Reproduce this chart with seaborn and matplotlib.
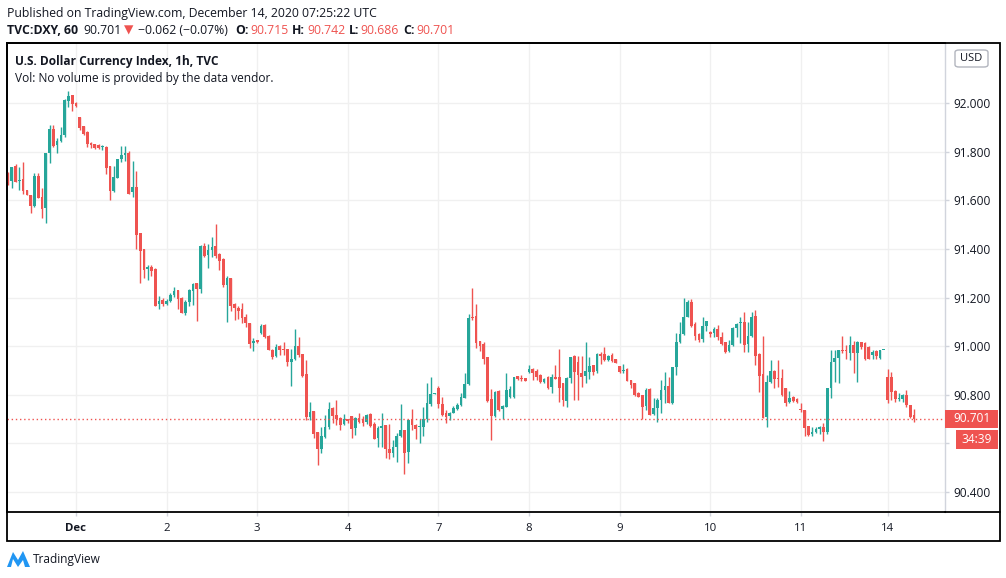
import matplotlib
matplotlib.use("Agg")
import matplotlib.pyplot as plt
import seaborn as sns
import numpy as np
from matplotlib.patches import FancyBboxPatch, Rectangle, Polygon
from matplotlib.lines import Line2D

# ---------------- data (hourly candles, TVC:DXY) ----------------
opens = [91.711, 91.679, 91.742, 91.681, 91.686, 91.641, 91.622, 91.578, 91.701, 91.613,
         91.569, 91.793, 91.893, 91.827, 91.844, 91.868, 92.010, 92.033, 91.999, 91.942,
         91.904, 91.882, 91.835, 91.830, 91.827, 91.820, 91.819, 91.739, 91.638, 91.693,
         91.770, 91.786, 91.796, 91.635, 91.653, 91.464, 91.400, 91.317, 91.326, 91.317,
         91.175, 91.189, 91.173, 91.187, 91.210, 91.231, 91.197, 91.138, 91.182, 91.228,
         91.258, 91.236, 91.412, 91.375, 91.396, 91.412, 91.378, 91.359, 91.252, 91.282,
         91.173, 91.158, 91.153, 91.121, 91.097, 91.012, 91.025, 91.053, 91.087, 91.042,
         90.984, 90.960, 91.001, 90.987, 90.987, 90.936, 90.946, 91.001, 90.968, 90.886,
         90.710, 90.733, 90.646, 90.576, 90.628, 90.669, 90.747, 90.717, 90.706, 90.680,
         90.701, 90.713, 90.665, 90.703, 90.699, 90.689, 90.721, 90.678, 90.624, 90.665,
         90.676, 90.576, 90.559, 90.584, 90.632, 90.655, 90.566, 90.699, 90.676, 90.668,
         90.669, 90.699, 90.762, 90.805, 90.826, 90.762, 90.724, 90.713, 90.726, 90.741,
         90.758, 90.787, 90.843, 91.121, 91.124, 91.021, 91.009, 90.957, 90.783, 90.713,
         90.815, 90.740, 90.751, 90.789, 90.789, 90.877, 90.866, 90.870, 90.895, 90.906,
         90.898, 90.881, 90.854, 90.874, 90.833, 90.874, 90.872, 90.850, 90.776, 90.870,
         90.959, 90.936, 90.888, 90.877, 90.895, 90.922, 90.899, 90.968, 90.968, 90.943,
         90.964, 90.946, 90.918, 90.898, 90.906, 90.861, 90.847, 90.806, 90.798, 90.754,
         90.822, 90.721, 90.744, 90.778, 90.820, 90.836, 90.765, 90.913, 91.018, 91.050,
         91.121, 91.183, 91.091, 91.050, 91.029, 91.083, 91.060, 91.053, 91.071, 91.039,
         91.016, 90.981, 91.005, 91.073, 91.094, 91.098, 91.009, 91.042, 91.124, 90.968,
         90.886, 90.710, 90.854, 90.899, 90.869, 90.870, 90.827, 90.772, 90.792, 90.781,
         90.738, 90.737, 90.671, 90.638, 90.648, 90.661, 90.668, 90.648, 90.826, 90.936,
         90.953, 90.986, 90.984, 90.973, 91.004, 90.973, 91.015, 91.011, 90.995, 90.963,
         90.981, 90.953, 90.984, 90.871, 90.871, 90.816, 90.783, 90.781, 90.799, 90.757,
         90.715]
highs = [91.715, 91.738, 91.748, 91.738, 91.756, 91.644, 91.622, 91.712, 91.712, 91.649,
         91.793, 91.909, 91.909, 91.857, 91.901, 92.016, 92.049, 92.033, 92.005, 91.942,
         91.907, 91.885, 91.838, 91.833, 91.830, 91.827, 91.822, 91.739, 91.739, 91.770,
         91.823, 91.823, 91.803, 91.762, 91.720, 91.464, 91.400, 91.333, 91.333, 91.323,
         91.206, 91.197, 91.193, 91.217, 91.245, 91.231, 91.204, 91.190, 91.234, 91.261,
         91.258, 91.415, 91.423, 91.420, 91.448, 91.503, 91.382, 91.361, 91.289, 91.282,
         91.179, 91.167, 91.179, 91.132, 91.097, 91.032, 91.025, 91.091, 91.091, 91.046,
         90.987, 91.009, 91.005, 91.019, 90.987, 90.987, 91.071, 91.036, 90.968, 90.943,
         90.772, 90.733, 90.646, 90.669, 90.717, 90.769, 90.751, 90.779, 90.710, 90.721,
         90.701, 90.713, 90.710, 90.726, 90.713, 90.721, 90.726, 90.689, 90.672, 90.724,
         90.676, 90.680, 90.614, 90.644, 90.762, 90.655, 90.699, 90.740, 90.680, 90.699,
         90.751, 90.850, 90.872, 90.808, 90.836, 90.789, 90.737, 90.730, 90.754, 90.767,
         90.806, 90.891, 91.131, 91.238, 91.173, 91.021, 91.018, 90.957, 90.824, 90.815,
         90.820, 90.758, 90.888, 90.836, 90.874, 90.877, 90.881, 90.870, 90.922, 90.909,
         90.904, 90.884, 90.870, 90.878, 90.884, 90.922, 90.987, 90.850, 90.874, 90.954,
         90.964, 90.960, 90.960, 91.018, 90.957, 90.922, 90.973, 90.977, 90.995, 90.964,
         90.973, 90.948, 90.918, 90.927, 90.909, 90.861, 90.847, 90.813, 90.798, 90.827,
         90.827, 90.785, 90.785, 90.861, 90.895, 90.875, 90.916, 91.053, 91.101, 91.197,
         91.190, 91.193, 91.101, 91.053, 91.119, 91.103, 91.064, 91.080, 91.087, 91.060,
         91.016, 91.025, 91.077, 91.097, 91.119, 91.139, 91.098, 91.139, 91.149, 90.971,
         91.042, 90.881, 90.943, 90.902, 90.943, 90.906, 90.829, 90.816, 90.795, 90.785,
         90.765, 90.737, 90.672, 90.666, 90.666, 90.671, 90.685, 90.829, 90.986, 90.984,
         90.986, 91.041, 91.004, 91.041, 91.022, 91.022, 91.018, 91.018, 91.000, 90.986,
         90.986, 90.986, 90.986, 90.904, 90.894, 90.819, 90.808, 90.805, 90.819, 90.757,
         90.742]
lows = [91.663, 91.652, 91.674, 91.642, 91.624, 91.622, 91.549, 91.572, 91.608, 91.528,
        91.505, 91.755, 91.820, 91.796, 91.838, 91.861, 91.985, 91.968, 91.984, 91.889,
        91.868, 91.819, 91.816, 91.809, 91.809, 91.807, 91.707, 91.601, 91.633, 91.690,
        91.756, 91.763, 91.626, 91.615, 91.398, 91.261, 91.282, 91.272, 91.289, 91.167,
        91.154, 91.165, 91.169, 91.183, 91.204, 91.154, 91.135, 91.130, 91.165, 91.169,
        91.104, 91.220, 91.368, 91.323, 91.368, 91.363, 91.313, 91.245, 91.101, 91.146,
        91.108, 91.110, 91.094, 91.078, 90.991, 90.981, 91.014, 91.049, 91.035, 90.982,
        90.949, 90.954, 90.964, 90.964, 90.919, 90.834, 90.943, 90.957, 90.875, 90.696,
        90.696, 90.621, 90.509, 90.562, 90.621, 90.658, 90.683, 90.676, 90.655, 90.676,
        90.685, 90.624, 90.634, 90.685, 90.672, 90.680, 90.669, 90.617, 90.587, 90.587,
        90.539, 90.534, 90.545, 90.525, 90.628, 90.473, 90.518, 90.655, 90.617, 90.600,
        90.630, 90.689, 90.754, 90.804, 90.747, 90.713, 90.685, 90.696, 90.724, 90.737,
        90.754, 90.785, 90.839, 91.107, 90.991, 90.980, 90.927, 90.772, 90.614, 90.710,
        90.735, 90.699, 90.748, 90.785, 90.785, 90.861, 90.858, 90.858, 90.891, 90.861,
        90.861, 90.847, 90.847, 90.824, 90.806, 90.865, 90.772, 90.754, 90.751, 90.847,
        90.779, 90.780, 90.833, 90.850, 90.864, 90.881, 90.891, 90.927, 90.940, 90.940,
        90.936, 90.930, 90.888, 90.891, 90.858, 90.827, 90.795, 90.790, 90.699, 90.737,
        90.717, 90.717, 90.689, 90.726, 90.765, 90.765, 90.762, 90.881, 91.014, 91.046,
        91.118, 91.077, 91.025, 91.018, 91.018, 91.064, 91.039, 91.039, 91.025, 91.005,
        90.973, 90.977, 91.001, 91.039, 91.012, 90.977, 90.977, 91.039, 90.923, 90.813,
        90.703, 90.666, 90.850, 90.827, 90.833, 90.795, 90.754, 90.768, 90.772, 90.765,
        90.731, 90.630, 90.630, 90.630, 90.641, 90.638, 90.611, 90.638, 90.785, 90.853,
        90.849, 90.970, 90.945, 90.943, 90.890, 90.853, 90.990, 90.942, 90.945, 90.949,
        90.949, 90.949, 90.983, 90.767, 90.778, 90.771, 90.775, 90.771, 90.751, 90.703,
        90.686]
closes = [91.676, 91.738, 91.676, 91.684, 91.638, 91.622, 91.578, 91.701, 91.611, 91.564,
          91.793, 91.892, 91.824, 91.844, 91.868, 92.012, 92.029, 91.994, 91.989, 91.899,
          91.872, 91.831, 91.827, 91.816, 91.815, 91.822, 91.734, 91.638, 91.696, 91.770,
          91.786, 91.794, 91.626, 91.653, 91.457, 91.393, 91.313, 91.326, 91.309, 91.167,
          91.186, 91.173, 91.187, 91.212, 91.227, 91.195, 91.135, 91.183, 91.231, 91.256,
          91.236, 91.412, 91.371, 91.396, 91.409, 91.371, 91.352, 91.252, 91.282, 91.167,
          91.156, 91.146, 91.115, 91.097, 91.008, 91.023, 91.015, 91.083, 91.036, 90.984,
          90.957, 90.995, 90.982, 90.982, 90.936, 90.946, 91.001, 90.964, 90.877, 90.710,
          90.729, 90.639, 90.576, 90.631, 90.669, 90.743, 90.713, 90.699, 90.676, 90.699,
          90.694, 90.661, 90.703, 90.689, 90.685, 90.717, 90.672, 90.619, 90.665, 90.672,
          90.576, 90.559, 90.584, 90.632, 90.655, 90.562, 90.696, 90.676, 90.661, 90.670,
          90.699, 90.765, 90.803, 90.806, 90.761, 90.717, 90.710, 90.726, 90.744, 90.758,
          90.789, 90.844, 91.114, 91.114, 91.014, 91.001, 90.947, 90.776, 90.713, 90.811,
          90.737, 90.754, 90.820, 90.824, 90.872, 90.863, 90.864, 90.858, 90.904, 90.888,
          90.874, 90.854, 90.865, 90.826, 90.874, 90.865, 90.826, 90.778, 90.870, 90.954,
          90.895, 90.882, 90.875, 90.898, 90.918, 90.895, 90.968, 90.960, 90.943, 90.960,
          90.940, 90.932, 90.895, 90.901, 90.858, 90.840, 90.799, 90.792, 90.751, 90.820,
          90.717, 90.744, 90.778, 90.820, 90.836, 90.768, 90.913, 91.018, 91.050, 91.121,
          91.183, 91.083, 91.042, 91.025, 91.083, 91.103, 91.050, 91.071, 91.036, 91.009,
          90.977, 91.005, 91.073, 91.091, 91.096, 91.005, 91.042, 91.121, 90.960, 90.877,
          90.706, 90.854, 90.899, 90.864, 90.866, 90.799, 90.768, 90.785, 90.774, 90.772,
          90.736, 90.665, 90.634, 90.648, 90.661, 90.668, 90.648, 90.826, 90.936, 90.953,
          90.984, 90.981, 90.980, 91.004, 90.973, 91.015, 90.995, 90.945, 90.945, 90.974,
          90.959, 90.984, 90.985, 90.778, 90.812, 90.781, 90.785, 90.799, 90.757, 90.709,
          90.701]

day_tick_idx = [18, 42, 66, 90, 114, 138, 162, 186, 210, 233]
day_labels = ["Dec", "2", "3", "4", "7", "8", "9", "10", "11", "14"]
price_ticks = [90.4, 90.6, 90.8, 91.0, 91.2, 91.4, 91.6, 91.8, 92.0]
hidden_price_labels = [90.6]   # covered by the countdown tag in the reference
last_price = 90.701
countdown = "34:39"
ohlc_header = ["90.715", "90.742", "90.686", "90.701"]

# ---------------- style ----------------
GREEN = "#26a69a"
RED = "#ef5350"
TXT = "#131722"
GRID = "#f0f0f0"

sns.set_theme(style="white")
plt.rcParams['font.family'] = ['Open Sans', 'DejaVu Sans']

W, H = 1006, 578
fig = plt.figure(figsize=(W / 100, H / 100), dpi=100)
fig.patch.set_facecolor("white")


def fx(px):
    return px / W


def fy(py):
    return 1 - py / H


ax = fig.add_axes([fx(7), fy(512), fx(945) - fx(7), fy(43) - fy(512)])
ax.set_facecolor("white")

o = np.array(opens)
h = np.array(highs)
l = np.array(lows)
c = np.array(closes)
x = np.arange(len(c))
cols = np.where(c >= o, GREEN, RED)

ax.vlines(x, l, h, colors=cols, linewidth=1.0, zorder=3)
body_bottom = np.minimum(o, c)
body_h = np.maximum(np.abs(c - o), 0.004)
ax.bar(x, body_h, bottom=body_bottom, width=0.72, color=cols, linewidth=0, zorder=4)

ax.axhline(last_price, color=RED, linestyle=(0, (1, 2)), linewidth=1.0, zorder=5)

ax.set_xlim(-0.27, 248.2)
ax.set_ylim(90.3176, 92.247)

ax.set_xticks(day_tick_idx)
ax.set_xticklabels(day_labels)
for lab in ax.get_xticklabels():
    if lab.get_text() == "Dec":
        lab.set_fontweight("bold")
ax.set_yticks(price_ticks)
ax.set_yticklabels(["" if v in hidden_price_labels else f"{v:.3f}" for v in price_ticks])
ax.yaxis.tick_right()
ax.tick_params(axis="y", which="both", right=True, left=False, length=3, width=1,
               color="#d1d4dc", pad=3.0, labelsize=8.6, labelcolor=TXT)
ax.tick_params(axis="x", which="both", bottom=True, length=3, width=1,
               color="#d1d4dc", pad=5, labelsize=8.2, labelcolor=TXT)

ax.grid(True, color=GRID, linewidth=1.0)
ax.set_axisbelow(True)
for s in ["top", "left", "bottom"]:
    ax.spines[s].set_color("#000000")
    ax.spines[s].set_linewidth(1.3)
ax.spines["right"].set_color("#d1d4dc")
ax.spines["right"].set_linewidth(1.0)

# outer frame
fig.add_artist(Rectangle((fx(7), fy(541)), fx(1000) - fx(7), fy(43) - fy(541),
                         transform=fig.transFigure, fill=False, edgecolor="#000000",
                         linewidth=1.3, zorder=10))
fig.add_artist(Line2D([fx(945), fx(1000)], [fy(512), fy(512)], transform=fig.transFigure,
                      color="#000000", linewidth=1.3, zorder=10))

# price tag + countdown
fig.add_artist(Rectangle((fx(945), fy(428)), fx(998) - fx(945), fy(410) - fy(428),
                         transform=fig.transFigure, facecolor=RED, edgecolor="none", zorder=11))
fig.text(fx(971.5), fy(419), f"{last_price:.3f}", color="white", fontsize=8.6,
         ha="center", va="center", zorder=12)
fig.add_artist(Rectangle((fx(956), fy(449)), fx(998) - fx(956), fy(430) - fy(449),
                         transform=fig.transFigure, facecolor=RED, edgecolor="none", zorder=11))
fig.text(fx(977), fy(439.5), countdown, color="white", fontsize=8.6,
         ha="center", va="center", zorder=12)

# USD badge
fig.add_artist(FancyBboxPatch((fx(955), fy(67)), fx(988) - fx(955), fy(50) - fy(67),
                              boxstyle="round,pad=0.0,rounding_size=0.004",
                              transform=fig.transFigure, facecolor="white",
                              edgecolor="#b2b5be", linewidth=1.0, zorder=11))
fig.text(fx(971.5), fy(58.5), "USD", color=TXT, fontsize=8, ha="center", va="center", zorder=12)

# header
fig.text(fx(7), fy(13), "Published on TradingView.com, December 14, 2020 07:25:22 UTC",
         color=TXT, fontsize=8.8, ha="left", va="center")
runs = [
    (7, "TVC:DXY, 60", TXT, "bold"),
    (83, "90.701", TXT, "normal"),
    (124, "\u25BC", RED, "normal"),
    (138, "\u22120.062 (\u22120.07%)", TXT, "normal"),
    (235, "O:", TXT, "bold"),
    (250, ohlc_header[0], RED, "normal"),
    (292, "H:", TXT, "bold"),
    (307, ohlc_header[1], RED, "normal"),
    (349, "L:", TXT, "bold"),
    (360, ohlc_header[2], RED, "normal"),
    (403, "C:", TXT, "bold"),
    (416, ohlc_header[3], RED, "normal"),
]
for px, s, col, wt in runs:
    fig.text(fx(px), fy(30), s, color=col, fontsize=8.8, fontweight=wt,
             ha="left", va="center", family=['Open Sans', 'DejaVu Sans'])

fig.text(fx(15), fy(61), "U.S. Dollar Currency Index, 1h, TVC", color=TXT,
         fontsize=8.6, fontweight="bold", ha="left", va="center")
fig.text(fx(15), fy(78), "Vol: No volume is provided by the data vendor.", color=TXT,
         fontsize=8.6, ha="left", va="center")

# footer logo
fig.add_artist(Polygon([(fx(7), fy(567)), (fx(13), fy(552)), (fx(18), fy(560)),
                        (fx(23), fy(551)), (fx(30), fy(567)), (fx(25), fy(567)),
                        (fx(23), fy(560)), (fx(18), fy(567)), (fx(13), fy(559)),
                        (fx(11), fy(567))],
                       closed=True, transform=fig.transFigure, facecolor="#2196f3",
                       edgecolor="none"))
fig.text(fx(33), fy(560), "TradingView", color=TXT, fontsize=8.6, ha="left", va="center")

fig.savefig("out.png", dpi=100, facecolor="white")
